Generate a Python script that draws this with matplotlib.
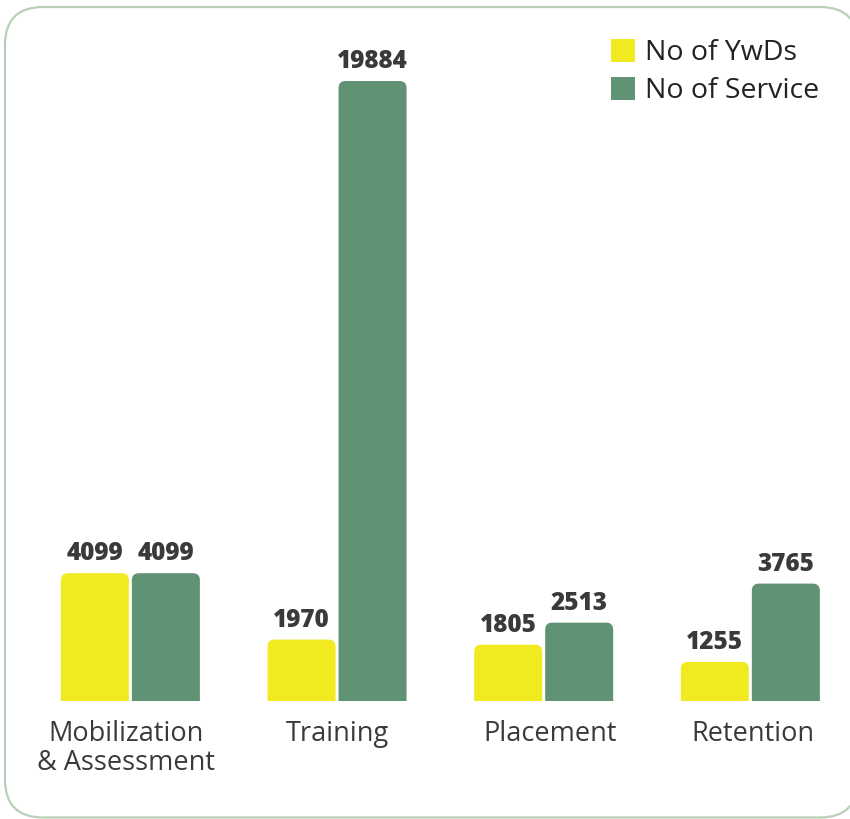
import matplotlib
matplotlib.use("Agg")
import matplotlib.pyplot as plt
from matplotlib.patches import FancyBboxPatch, Rectangle, Patch
import numpy as np

categories = ["Mobilization\n& Assessment", "Training", "Placement", "Retention"]
series_names = ["No of YwDs", "No of Service"]
ywds = [4099, 1970, 1805, 1255]
service = [4099, 19884, 2513, 3765]
colors = ["#F2EA21", "#5F9373"]
text_color = "#3a3a3a"

plt.rcParams["font.family"] = ["Open Sans", "DejaVu Sans"]

W, H = 850, 819
fig = plt.figure(figsize=(W / 100, H / 100), dpi=100)
ax = fig.add_axes([0, 0, 1, 1])
ax.set_axis_off()

# layout (pixels -> data)
px_per_cat = 206.65
cat0_px = 130.4
base_px = 701            # baseline from top
px_per_val = 620 / 19884
ax.set_xlim(-cat0_px / px_per_cat, (W - cat0_px) / px_per_cat)
ax.set_ylim(-(H - base_px) / px_per_val, base_px / px_per_val)

x = np.arange(len(categories))
bw = 68 / px_per_cat
off = 71 / px_per_cat / 2

xu_per_px = 1 / px_per_cat
yu_per_px = 1 / px_per_val
aspect = yu_per_px / xu_per_px
r = 7 * xu_per_px

clip = Rectangle((-10, 0), 100, 1e6, transform=ax.transData)

for vals, sign, col in [(ywds, -1, colors[0]), (service, 1, colors[1])]:
    bars = ax.bar(x + sign * off, vals, width=bw, color=col)
    for b, v in zip(bars, vals):
        b.set_visible(False)
        ext = 20 * yu_per_px
        p = FancyBboxPatch((b.get_x(), -ext), b.get_width(), v + ext,
                           boxstyle=f"round,pad=0,rounding_size={r}",
                           mutation_aspect=aspect, facecolor=col,
                           edgecolor="none", transform=ax.transData)
        ax.add_patch(p)
        p.set_clip_path(clip)
        ax.annotate(f"{v}", (b.get_x() + b.get_width() / 2, v),
                    xytext=(0, 5), textcoords="offset points",
                    ha="center", va="bottom", fontsize=17.5,
                    fontweight=800, color=text_color)

label_dx = [-4, 0, 6, 3]
for xi, lab, dx in zip(x, categories, label_dx):
    ax.text(xi + dx * xu_per_px, -19 * yu_per_px, lab, ha="center", va="top",
            fontsize=19.5, color=text_color, linespacing=1.05)

handles = [Patch(facecolor=c, edgecolor="none") for c in colors]
fig.legend(handles, series_names, loc="upper left",
           bbox_to_anchor=(611 / W, 1 - 39 / H), frameon=False,
           fontsize=20.5, handlelength=0.84, handleheight=0.84,
           handletextpad=0.35, labelspacing=0.35, borderpad=0,
           borderaxespad=0, labelcolor="#222222")

# rounded frame (figure-fraction coordinates), white fill behind the chart
left, top, right, bottom, rad = 5, 7, 858, 817.5, 38
frame = FancyBboxPatch((left / W, 1 - bottom / H), (right - left) / W,
                       (bottom - top) / H,
                       boxstyle=f"round,pad=0,rounding_size={rad / W}",
                       mutation_aspect=W / H,
                       facecolor="white", edgecolor="#B8CFB8", linewidth=1.6,
                       transform=fig.transFigure, zorder=-5)
fig.add_artist(frame)

fig.savefig("out.png", dpi=100)
